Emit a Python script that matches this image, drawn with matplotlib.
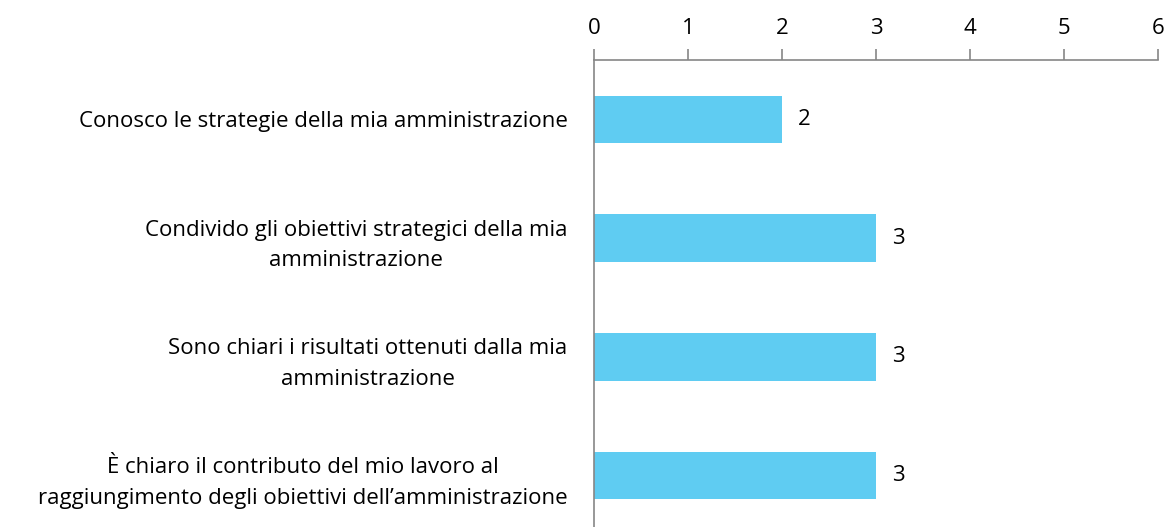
import matplotlib.pyplot as plt

categories = [
    "Conosco le strategie della mia amministrazione",
    "Condivido gli obiettivi strategici della mia\namministrazione",
    "Sono chiari i risultati ottenuti dalla mia\namministrazione",
    "È chiaro il contributo del mio lavoro al\nraggiungimento degli obiettivi dell\u2019amministrazione",
]
values = [2, 3, 3, 3]
xticks = [0, 1, 2, 3, 4, 5, 6]

plt.rcParams['font.family'] = ['Open Sans', 'DejaVu Sans']

fig = plt.figure(figsize=(11.7, 5.27), dpi=100)
ax = fig.add_axes([0.5077, -0.0152, 0.482, 0.9013])

pos = list(range(len(categories)))
ax.barh(pos, values, height=0.4, color='#5FCCF2')
ax.set_ylim(len(categories) - 0.5, -0.5)
ax.set_xlim(0, 6)

for p, v in zip(pos, values):
    ax.text(v + 0.17, p, str(v), va='center', ha='left', fontsize=16)

ax.set_yticks(pos)
ax.set_yticklabels(categories, fontsize=16, ha='right', multialignment='center',
                   linespacing=1.6)
ax.tick_params(axis='y', length=0, pad=19)

ax.xaxis.tick_top()
ax.set_xticks(xticks)
ax.set_xticklabels([str(t) for t in xticks], fontsize=16)
ax.tick_params(axis='x', length=8, width=1.2, color='#868686', pad=7)

for s in ['right', 'bottom']:
    ax.spines[s].set_visible(False)
for s in ['top', 'left']:
    ax.spines[s].set_color('#868686')
    ax.spines[s].set_linewidth(1.2)

fig.savefig('out.png', dpi=100)
